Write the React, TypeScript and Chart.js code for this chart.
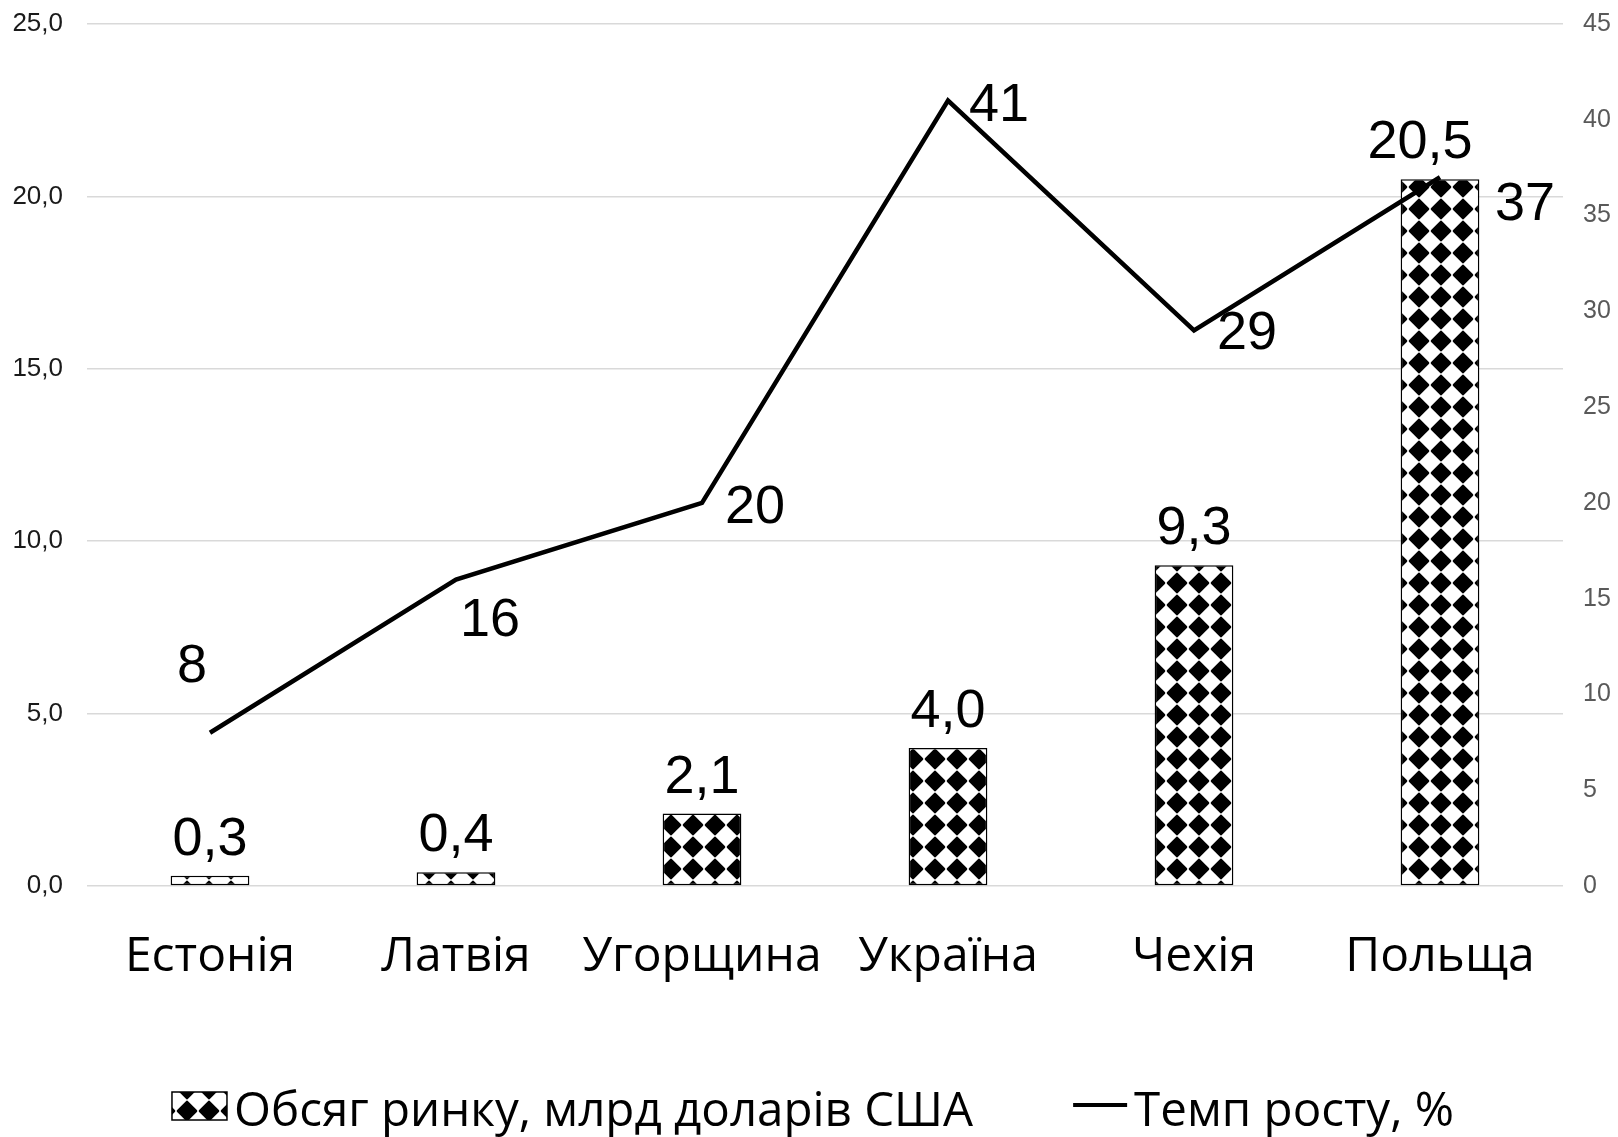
import React, { useEffect, useRef } from "react";
import { Chart, registerables } from "chart.js";

Chart.register(...registerables);

const categories = ["Естонія", "Латвія", "Угорщина", "Україна", "Чехія", "Польща"];
const marketVolume = [0.3, 0.4, 2.1, 4.0, 9.3, 20.5];
const growthRate = [8, 16, 20, 41, 29, 37];
const leftTickStep = 5;
const leftMax = 25;
const rightTickStep = 5;
const rightMax = 45;
const seriesNames = ["Обсяг ринку, млрд доларів США", "Темп росту, %"];

// label placement (style, not data)
const barLabelDx = [0, 0, 0, 0, 0, -20];
const lineLabelOffsets = [
  [-18, -66],
  [34, 42],
  [53, 5],
  [51, 5],
  [53, 4],
  [85, 28],
];

const fmt = (v: number) => v.toFixed(1).replace(".", ",");

function makePattern(): CanvasPattern | string {
  const s = 22;
  const tile = document.createElement("canvas");
  tile.width = s;
  tile.height = s;
  const c = tile.getContext("2d");
  if (!c) return "#000";
  c.fillStyle = "#fff";
  c.fillRect(0, 0, s, s);
  c.fillStyle = "#000";
  c.strokeStyle = "#000";
  c.lineJoin = "round";
  c.lineWidth = 3;
  const r = 8.8;
  c.beginPath();
  c.moveTo(s / 2, s / 2 - r);
  c.lineTo(s / 2 + r, s / 2);
  c.lineTo(s / 2, s / 2 + r);
  c.lineTo(s / 2 - r, s / 2);
  c.closePath();
  c.fill();
  c.stroke();
  const p = c.createPattern(tile, "repeat");
  return p || "#000";
}

const LEGEND_FONT = '47.5px "Open Sans", "Noto Sans", sans-serif';
const VALUE_FONT = '54px "Liberation Sans", Arial, sans-serif';

export default function App() {
  const ref = useRef<HTMLCanvasElement | null>(null);

  useEffect(() => {
    if (!ref.current) return;
    const pattern = makePattern();

    const labelPlugin = {
      id: "customLabels",
      afterDraw(chart: any) {
        const ctx = chart.ctx as CanvasRenderingContext2D;
        ctx.save();
        ctx.font = VALUE_FONT;
        ctx.fillStyle = "#000";
        ctx.textAlign = "center";
        ctx.textBaseline = "alphabetic";
        const barMeta = chart.getDatasetMeta(0);
        barMeta.data.forEach((el: any, i: number) => {
          ctx.fillText(fmt(marketVolume[i]), el.x + barLabelDx[i], el.y - 21);
        });
        ctx.textBaseline = "middle";
        const lineMeta = chart.getDatasetMeta(1);
        lineMeta.data.forEach((el: any, i: number) => {
          const [dx, dy] = lineLabelOffsets[i];
          ctx.fillText(String(growthRate[i]), el.x + dx, el.y + dy);
        });

        // legend
        ctx.font = LEGEND_FONT;
        ctx.textAlign = "left";
        ctx.textBaseline = "alphabetic";
        const w1 = ctx.measureText(seriesNames[0]).width;
        const w2 = ctx.measureText(seriesNames[1]).width;
        const boxW = 55, boxH = 28, gap1 = 7, between = 100, lineW = 54, gap2 = 7;
        const total = boxW + gap1 + w1 + between + lineW + gap2 + w2;
        let x = (chart.width - total) / 2 + 4;
        const baseY = 1126;
        const boxTop = 1092;
        ctx.fillStyle = pattern as any;
        ctx.fillRect(x, boxTop, boxW, boxH);
        ctx.strokeStyle = "#000";
        ctx.lineWidth = 1.5;
        ctx.strokeRect(x, boxTop, boxW, boxH);
        x += boxW + gap1;
        ctx.fillStyle = "#000";
        ctx.fillText(seriesNames[0], x, baseY);
        x += w1 + between;
        ctx.beginPath();
        ctx.moveTo(x, 1105);
        ctx.lineTo(x + lineW, 1105);
        ctx.lineWidth = 4;
        ctx.stroke();
        x += lineW + gap2;
        ctx.fillText(seriesNames[1], x, baseY);
        ctx.restore();
      },
    };

    const chart = new Chart(ref.current, {
      type: "bar",
      data: {
        labels: categories,
        datasets: [
          {
            type: "bar",
            label: seriesNames[0],
            data: marketVolume,
            backgroundColor: pattern as any,
            borderColor: "#000",
            borderWidth: 1.5,
            borderSkipped: false,
            barPercentage: 0.32,
            categoryPercentage: 1,
            yAxisID: "y",
            order: 1,
          },
          {
            type: "line",
            label: seriesNames[1],
            data: growthRate,
            borderColor: "#000",
            borderWidth: 4.5,
            pointRadius: 0,
            tension: 0,
            fill: false,
            yAxisID: "y1",
            order: 0,
          } as any,
        ],
      },
      options: {
        responsive: false,
        animation: false,
        devicePixelRatio: 1,
        layout: { padding: { top: 24, left: 0, right: 0, bottom: 0 } },
        plugins: {
          legend: { display: false },
          tooltip: { enabled: false },
        },
        scales: {
          x: {
            grid: { display: false, drawTicks: false },
            border: { display: false },
            ticks: {
              font: { family: '"Open Sans", "Noto Sans", sans-serif', size: 48 },
              color: "#000",
              padding: 43,
              maxRotation: 0,
              autoSkip: false,
            },
            afterFit(scale: any) {
              scale.height = 251;
            },
          },
          y: {
            position: "left",
            min: 0,
            max: leftMax,
            grid: { color: "#d9d9d9", lineWidth: 1.5, drawTicks: false },
            border: { display: false },
            ticks: {
              stepSize: leftTickStep,
              font: { family: '"Liberation Sans", Arial, sans-serif', size: 26 },
              color: "#1a1a1a",
              padding: 24,
              callback: (v: any) => fmt(Number(v)),
            },
            afterFit(scale: any) {
              scale.width = 87;
              scale.paddingTop = 0;
              scale.paddingBottom = 0;
            },
          },
          y1: {
            position: "right",
            min: 0,
            max: rightMax,
            grid: { display: false, drawTicks: false },
            border: { display: false },
            ticks: {
              stepSize: rightTickStep,
              font: { family: '"Liberation Sans", Arial, sans-serif', size: 25 },
              color: "#595959",
              padding: 20,
            },
            afterFit(scale: any) {
              scale.width = 55;
              scale.paddingTop = 0;
              scale.paddingBottom = 0;
            },
          },
        },
      },
      plugins: [labelPlugin],
    });

    return () => chart.destroy();
  }, []);

  return (
    <div style={{ position: "absolute", left: 0, top: 0, width: 1618, height: 1137, background: "#fff" }}>
      <canvas ref={ref} width={1618} height={1137} />
    </div>
  );
}
